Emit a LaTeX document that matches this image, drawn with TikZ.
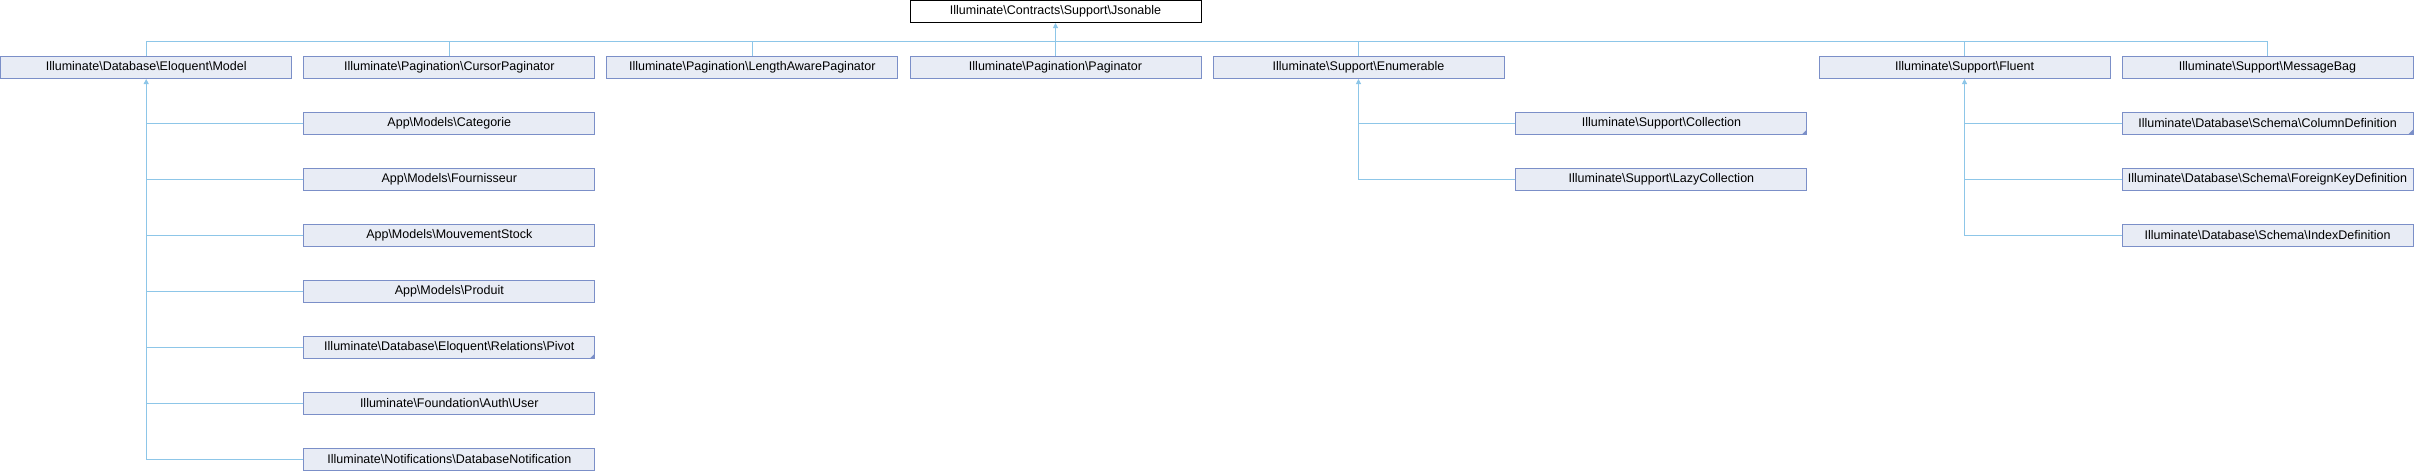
\documentclass[tikz,border=0pt]{standalone}
\usepackage{fontspec}
\setmainfont{Liberation Sans}
\usetikzlibrary{arrows.meta}
\definecolor{boxfill}{HTML}{E8ECF5}
\definecolor{boxline}{HTML}{7B8FC8}
\definecolor{edgec}{HTML}{8DC6E8}
\newcommand\bs{\textbackslash}
\begin{document}
\begin{tikzpicture}[x=1pt,y=-1pt,
  cls/.style={draw=boxline,fill=boxfill,line width=1pt,minimum width=291pt,minimum height=22pt,inner sep=0pt,font=\fontsize{12.5}{14}\selectfont},
  topcls/.style={cls,draw=black,fill=white},
  edge/.style={draw=edgec,line width=1pt},
  inh/.style={edge,{Triangle[length=5pt,width=5pt]}-},
  more/.style={fill=boxline}
]
\useasboundingbox (0,0) rectangle (2414,472);

% top
\node[topcls] (json) at (1055.5,11.5) {Illuminate\bs Contracts\bs Support\bs Jsonable};

% row 1
\node[cls] (model)  at (146.2,67.5)  {Illuminate\bs Database\bs Eloquent\bs Model};
\node[cls] (cursor) at (449.3,67.5)  {Illuminate\bs Pagination\bs CursorPaginator};
\node[cls] (lap)    at (752.3,67.5)  {Illuminate\bs Pagination\bs LengthAwarePaginator};
\node[cls] (pag)    at (1055.5,67.5) {Illuminate\bs Pagination\bs Paginator};
\node[cls] (enum)   at (1358.5,67.5) {Illuminate\bs Support\bs Enumerable};
\node[cls] (fluent) at (1964.5,67.5) {Illuminate\bs Support\bs Fluent};
\node[cls] (msg)    at (2267.5,67.5) {Illuminate\bs Support\bs MessageBag};

% model children
\node[cls] (cat)   at (449.3,123.5) {App\bs Models\bs Categorie};
\node[cls] (four)  at (449.3,179.5) {App\bs Models\bs Fournisseur};
\node[cls] (mouv)  at (449.3,235.5) {App\bs Models\bs MouvementStock};
\node[cls] (prod)  at (449.3,291.5) {App\bs Models\bs Produit};
\node[cls] (pivot) at (449.3,347.5) {Illuminate\bs Database\bs Eloquent\bs Relations\bs Pivot};
\node[cls] (user)  at (449.3,403.5) {Illuminate\bs Foundation\bs Auth\bs User};
\node[cls] (notif) at (449.3,459.5) {Illuminate\bs Notifications\bs DatabaseNotification};

% enumerable children
\node[cls] (coll) at (1661.4,123.5) {Illuminate\bs Support\bs Collection};
\node[cls] (lazy) at (1661.4,179.5) {Illuminate\bs Support\bs LazyCollection};

% fluent children
\node[cls] (coldef) at (2267.5,123.5) {Illuminate\bs Database\bs Schema\bs ColumnDefinition};
\node[cls] (fkdef)  at (2267.5,179.5) {Illuminate\bs Database\bs Schema\bs ForeignKeyDefinition};
\node[cls] (idxdef) at (2267.5,235.5) {Illuminate\bs Database\bs Schema\bs IndexDefinition};

% corner markers
\foreach \n in {pivot,coll,coldef}
  \fill[more] ([shift={(-0.5,-0.5)}]\n.south east) -- ++(-5,0) -- ++(5,-5) -- cycle;

% bus to top
\coordinate (bus) at (1055.5,41);
\draw[inh] (json.south) -- (bus);
\draw[edge] (model.north |- bus) -- (msg.north |- bus);
\foreach \n in {model,cursor,lap,pag,enum,fluent,msg}
  \draw[edge] (\n.north) -- (\n.north |- bus);

% model subtree
\draw[inh] (model.south) -- (model.south |- notif.west);
\foreach \n in {cat,four,mouv,prod,pivot,user,notif}
  \draw[edge] (\n.west) -- (\n.west -| model.south);

% enumerable subtree
\draw[inh] (enum.south) -- (enum.south |- lazy.west);
\foreach \n in {coll,lazy}
  \draw[edge] (\n.west) -- (\n.west -| enum.south);

% fluent subtree
\draw[inh] (fluent.south) -- (fluent.south |- idxdef.west);
\foreach \n in {coldef,fkdef,idxdef}
  \draw[edge] (\n.west) -- (\n.west -| fluent.south);
\end{tikzpicture}
\end{document}
